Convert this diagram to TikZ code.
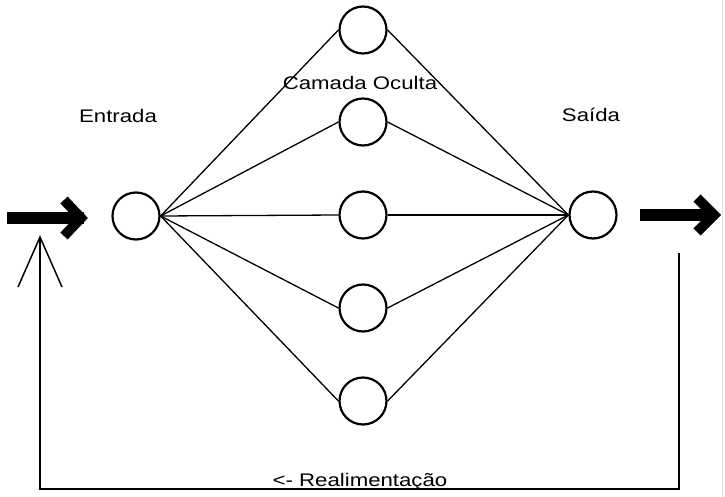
\documentclass[tikz,border=0pt]{standalone}
\usepackage{fontspec}
\setmainfont{Liberation Sans}
\begin{document}
\begin{tikzpicture}[x=1pt,y=-1pt,
  neuron/.style={circle, draw, line width=2.2pt, minimum size=47pt, inner sep=0pt, fill=white},
  lbl/.style={font=\fontsize{18.2}{20}\selectfont, xscale=1.22, inner sep=0pt, anchor=base},
  link/.style={line width=1.3pt},
  fb/.style={line width=1.5pt},
  bigarrow/.style={line width=12pt},
  chevron/.style={line width=10pt, line join=miter}]
\useasboundingbox (0,0) rectangle (725,497);
\draw[color={rgb,255:red,205;green,232;blue,245}, line width=1pt] (722,0) -- (722,497);
% neurons
\node[neuron] (in) at (136,216) {};
\node[neuron] (h1) at (363,30) {};
\node[neuron] (h2) at (363,122) {};
\node[neuron] (h3) at (363,215) {};
\node[neuron] (h4) at (363,308) {};
\node[neuron] (h5) at (363,401) {};
\node[neuron] (out) at (593,215) {};
% connections
\foreach \h in {h1,h2,h3,h4,h5}{
  \draw[link] (in.east) -- (\h.west);
  \draw[link] (\h.east) -- (out.west);
}
% labels
\node[lbl] (tin) at (118,123) {Entrada};
\node[lbl] (thid) at (360,90) {Camada Oculta};
\node[lbl] (tout) at (591,122) {Saída};
\node[lbl] (tfb) at (360,486) {<- Realimentação};
% big arrows
\coordinate (ia0) at (7,218);
\coordinate (ia1) at (84,218);
\coordinate (iaT) at (81,218);
\coordinate (iaU) at (64,200);
\coordinate (iaD) at (64,236);
\draw[bigarrow] (ia0) -- (ia1);
\draw[chevron] (iaU) -- (iaT) -- (iaD);
\coordinate (oa0) at (640,215);
\coordinate (oa1) at (712,215);
\coordinate (oaT) at (714,215);
\coordinate (oaU) at (697,198);
\coordinate (oaD) at (697,232);
\draw[bigarrow] (oa0) -- (oa1);
\draw[chevron] (oaU) -- (oaT) -- (oaD);
% feedback
\coordinate (f0) at (679,253);
\coordinate (f1) at (679,489);
\coordinate (f2) at (40,489);
\coordinate (f3) at (40,237);
\coordinate (fl) at (18,287);
\coordinate (fr) at (62,287);
\draw[fb] (f0) -- (f1) -- (f2) -- (f3);
\draw[fb, line join=miter] (fl) -- (f3) -- (fr);
\end{tikzpicture}
\end{document}
